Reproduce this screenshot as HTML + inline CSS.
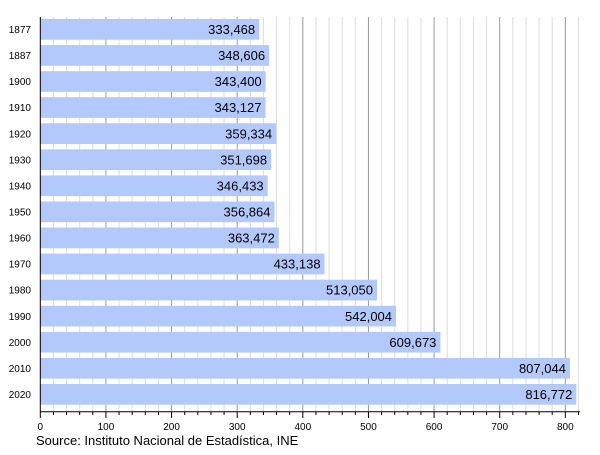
<!DOCTYPE html>
<html><head><style>body{margin:0;background:#fff}</style></head><body>
<svg width="600" height="450" xmlns="http://www.w3.org/2000/svg" font-family="Liberation Sans, sans-serif">
<g id="grid"></g>
<script>
(function(){
var s=document.querySelector('svg'),ns='http://www.w3.org/2000/svg';
function el(t,a,txt){var e=document.createElementNS(ns,t);for(var k in a)e.setAttribute(k,a[k]);if(txt!==undefined)e.textContent=txt;s.appendChild(e);return e;}
var x0=40.3,k=0.6563;
for(var v=20;v<=820;v+=20){var x=x0+v*k;el('line',{x1:x,x2:x,y1:17,y2:412,stroke:v%100==0?'#999':'#ddd','stroke-width':1});}
var d=[["1877",333.468],["1887",348.606],["1900",343.400],["1910",343.127],["1920",359.334],["1930",351.698],["1940",346.433],["1950",356.864],["1960",363.472],["1970",433.138],["1980",513.050],["1990",542.004],["2000",609.673],["2010",807.044],["2020",816.772]];
d.forEach(function(r,i){var y=19+i*26.07,w=r[1]*k;
el('rect',{x:x0,y:y,width:w,height:20.7,fill:'#b3c8fb'});
el('text',{x:x0+w-4,y:y+15,'font-size':13,'text-anchor':'end',fill:'#000'},r[1].toFixed(3).replace('.',','));
el('text',{x:31,y:y+14,'font-size':10,'text-anchor':'end',fill:'#000'},r[0]);});
el('line',{x1:x0,x2:x0,y1:17,y2:412,stroke:'#000'});
el('line',{x1:x0,x2:580,y1:411.7,y2:411.7,stroke:'#000'});
for(var v=0;v<=820;v+=20){var x=x0+v*k;el('line',{x1:x,x2:x,y1:411.7,y2:v%100==0?418:415,stroke:'#000'});
if(v%100==0)el('text',{x:x,y:430,'font-size':10,'text-anchor':'middle'},String(v));}
el('text',{x:36,y:445,'font-size':13},'Source: Instituto Nacional de Estadística, INE');
})();
</script>
</svg>
</body></html>
